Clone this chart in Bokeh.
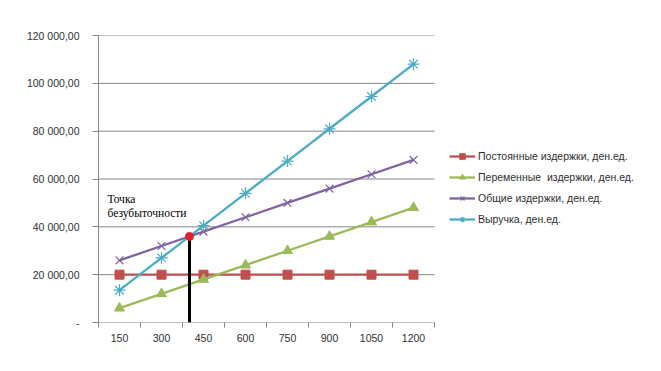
from bokeh.plotting import figure
from bokeh.models import FixedTicker, Legend, LegendItem, Label, ColumnDataSource, Range1d
from bokeh.embed import file_html
from bokeh.resources import INLINE

# ---- data ----
quantities = [150, 300, 450, 600, 750, 900, 1050, 1200]
fixed_costs = [20000, 20000, 20000, 20000, 20000, 20000, 20000, 20000]
variable_costs = [6000, 12000, 18000, 24000, 30000, 36000, 42000, 48000]
total_costs = [26000, 32000, 38000, 44000, 50000, 56000, 62000, 68000]
revenue = [13500, 27000, 40500, 54000, 67500, 81000, 94500, 108000]
series_names = ["Постоянные издержки, ден.ед.", "Переменные  издержки, ден.ед.",
                "Общие издержки, ден.ед.", "Выручка, ден.ед."]
break_even_units = 400
break_even_value = 36000
y_ticks = [0, 20000, 40000, 60000, 80000, 100000, 120000]
y_tick_labels = ["-", "20 000,00", "40 000,00", "60 000,00", "80 000,00", "100 000,00", "120 000,00"]
annotation_text = "Точка\nбезубыточности"

# category positions (Excel-like category axis)
xs = list(range(len(quantities)))
step = quantities[1] - quantities[0]
be_x = (break_even_units - quantities[0]) / step

W, H = 661, 371
BL, BR, BT, BB = 98, 6, 35, 49
frame_w = W - BL - BR
cat_px = 42.0  # pixel width of one category slot
x_lo = -0.5
x_hi = x_lo + frame_w / cat_px
cat_lo, cat_hi = -0.5, len(quantities) - 0.5

FONT = "Liberation Sans"
p = figure(width=W, height=H, output_backend="svg", toolbar_location=None,
           x_range=Range1d(x_lo, x_hi), y_range=Range1d(0, 120000),
           min_border_left=BL, min_border_right=BR, min_border_top=BT, min_border_bottom=BB)
p.outline_line_color = None
p.background_fill_color = "white"
p.border_fill_color = "white"

# axes
p.xaxis.ticker = FixedTicker(ticks=xs, minor_ticks=[x - 0.5 for x in xs] + [xs[-1] + 0.5])
p.xaxis.major_label_overrides = {x: str(q) for x, q in zip(xs, quantities)}
p.xaxis.major_tick_out = 0
p.xaxis.major_tick_in = 0
p.xaxis.minor_tick_out = 5
p.xaxis.minor_tick_in = 0
p.xaxis.minor_tick_line_color = "#868686"
p.xaxis.axis_line_color = None
p.xaxis.major_label_standoff = 6

p.yaxis.ticker = FixedTicker(ticks=y_ticks)
p.yaxis.major_label_overrides = {t: l for t, l in zip(y_ticks, y_tick_labels)}
p.yaxis.major_tick_out = 6
p.yaxis.major_tick_in = 0
p.yaxis.major_tick_line_color = "#868686"
p.yaxis.minor_tick_line_color = None
p.yaxis.axis_line_color = "#868686"
p.yaxis.major_label_standoff = 13

for ax in (p.xaxis, p.yaxis):
    ax.major_label_text_font = FONT
    ax.major_label_text_font_size = "10.5px"
    ax.major_label_text_color = "#303030"

p.xgrid.grid_line_color = None
p.ygrid.grid_line_color = None

# gridlines and category axis line limited to the category region
p.segment(x0=[cat_lo] * len(y_ticks), y0=y_ticks, x1=[cat_hi] * len(y_ticks), y1=y_ticks,
          line_color="#868686", line_width=1)

colors = ["#C0504D", "#9BBB59", "#8064A2", "#4BACC6"]
markers = ["square", "triangle", "x", "asterisk"]
sizes = [9, 10, 11, 12]
data = [fixed_costs, variable_costs, total_costs, revenue]

items = []
for name, c, m, s, ys in zip(series_names, colors, markers, sizes, data):
    src = ColumnDataSource(dict(x=xs, y=ys))
    l = p.line("x", "y", source=src, line_color=c, line_width=2.3)
    if m in ("x", "asterisk"):
        sc = p.scatter("x", "y", source=src, marker=m, size=s, line_color=c, line_width=1.2)
    else:
        sc = p.scatter("x", "y", source=src, marker=m, size=s, fill_color=c, line_color=c)
    items.append(LegendItem(label=name, renderers=[l, sc]))

# break-even marker
p.segment(x0=[be_x], y0=[0], x1=[be_x], y1=[break_even_value], line_color="black", line_width=3)
p.scatter(x=[be_x], y=[break_even_value], marker="circle", size=8, fill_color="#E0202A", line_color="#E0202A")

lab = Label(x=9, y=103, x_units="screen", y_units="screen", text=annotation_text,
            text_font="Liberation Serif", text_font_size="11.5px", text_color="black",
            text_line_height=1.2)
p.add_layout(lab)

legend = Legend(items=items, location=(351, 96), orientation="vertical",
                label_text_font=FONT, label_text_font_size="10.5px", label_text_color="#303030",
                glyph_width=26, glyph_height=14, label_standoff=3, spacing=7,
                border_line_color=None, background_fill_alpha=0, padding=0, margin=0)
p.add_layout(legend, "center")

open("out.html", "w").write(file_html(p, INLINE))
